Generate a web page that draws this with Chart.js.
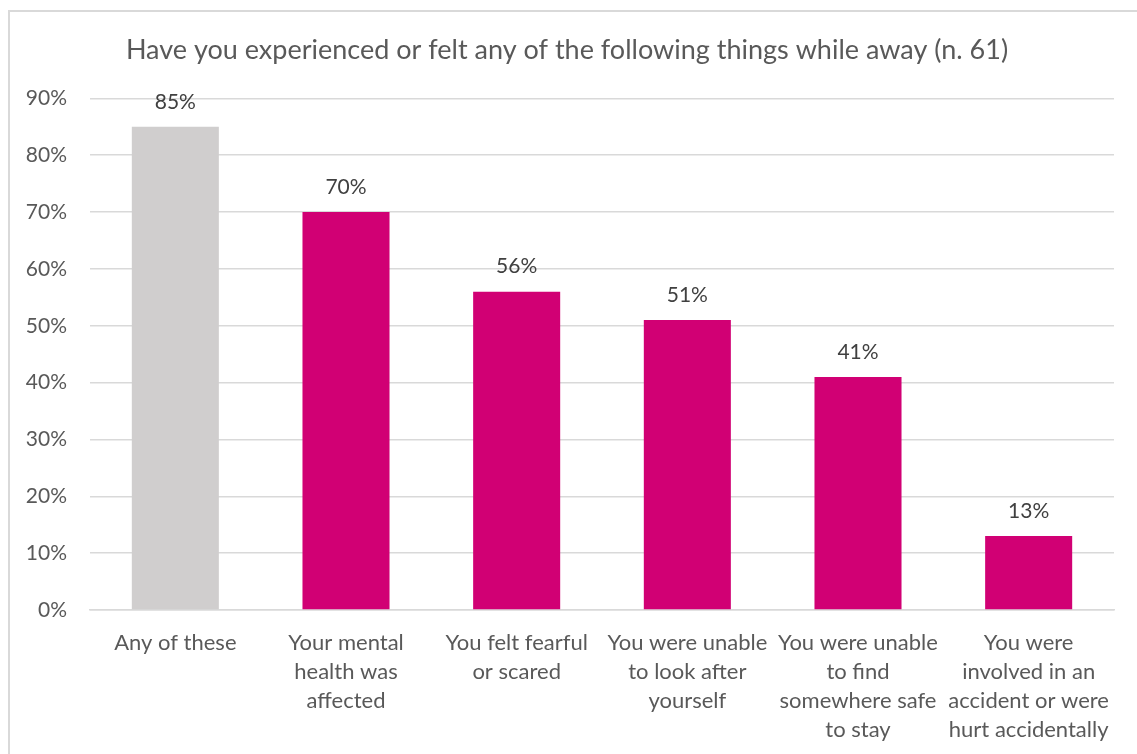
<!DOCTYPE html>
<html>
<head>
<meta charset="utf-8">
<script src="https://cdn.jsdelivr.net/npm/chart.js@4"></script>
<style>
  html, body { margin: 0; padding: 0; background: #fff; }
  #frame {
    position: absolute; left: 8px; top: 10px; width: 1140px; height: 760px;
    border-left: 2px solid #d9d9d9; border-top: 2px solid #d9d9d9;
  }
  #wrap { position: absolute; left: 0; top: 0; width: 1137px; height: 754px; }
</style>
</head>
<body>
<div id="frame"></div>
<div id="wrap"><canvas id="chart"></canvas></div>
<script>
// Données du graphique
const categories = [
    ['Any of these'],
    ['Your mental', 'health was', 'affected'],
    ['You felt fearful', 'or scared'],
    ['You were unable', 'to look after', 'yourself'],
    ['You were unable', 'to find', 'somewhere safe', 'to stay'],
    ['You were', 'involved in an', 'accident or were', 'hurt accidentally']
];
const values = [85, 70, 56, 51, 41, 13];
const barColors = ['#d0cece', '#d10074', '#d10074', '#d10074', '#d10074', '#d10074'];
const yTicks = [0, 10, 20, 30, 40, 50, 60, 70, 80, 90];

const FONT = 'Lato, "Open Sans", sans-serif';

// Étiquettes de valeur au-dessus des barres
const valueLabels = {
    id: 'valueLabels',
    afterDatasetsDraw(chart) {
        const ctx = chart.ctx;
        const meta = chart.getDatasetMeta(0);
        ctx.save();
        ctx.font = '21px ' + FONT;
        ctx.fillStyle = '#404040';
        ctx.textAlign = 'center';
        ctx.textBaseline = 'middle';
        meta.data.forEach((bar, i) => {
            ctx.fillText(values[i] + '%', bar.x, bar.y - 25);
        });
        ctx.restore();
    }
};

new Chart(document.getElementById('chart'), {
    type: 'bar',
    data: {
        labels: categories,
        datasets: [{
            data: values,
            backgroundColor: barColors,
            borderWidth: 0,
            barPercentage: 0.51,
            categoryPercentage: 1
        }]
    },
    options: {
        responsive: true,
        maintainAspectRatio: false,
        animation: false,
        layout: { padding: { left: 20, right: 23, top: 0, bottom: 0 } },
        plugins: {
            legend: { display: false },
            tooltip: { enabled: false },
            title: {
                display: true,
                text: 'Have you experienced or felt any of the following things while away (n. 61)',
                color: '#595959',
                font: { family: FONT, size: 27, weight: 'normal' },
                padding: { top: 34, bottom: 32 }
            }
        },
        scales: {
            y: {
                min: 0,
                max: 90,
                afterBuildTicks(scale) {
                    scale.ticks = yTicks.map(v => ({ value: v }));
                },
                afterFit(scale) { scale.width = 70; },
                border: { display: false },
                grid: { color: '#d9d9d9', lineWidth: 1.5, drawTicks: false },
                ticks: {
                    color: '#595959',
                    padding: 23,
                    font: { family: FONT, size: 21 },
                    callback: v => v + '%'
                }
            },
            x: {
                border: { color: '#d9d9d9', width: 1.5 },
                grid: { display: false },
                afterFit(scale) { scale.height = 144; },
                ticks: {
                    color: '#595959',
                    padding: 10,
                    maxRotation: 0,
                    autoSkip: false,
                    font: { family: FONT, size: 22, lineHeight: 1.32 }
                }
            }
        }
    },
    plugins: [valueLabels]
});
</script>
</body>
</html>
